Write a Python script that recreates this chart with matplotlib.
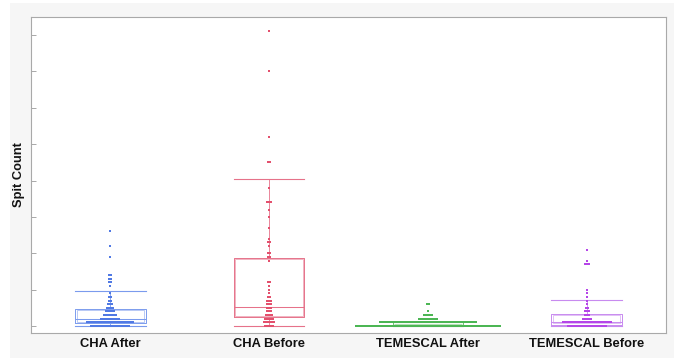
import numpy as np
import matplotlib
matplotlib.use("Agg")
import matplotlib.pyplot as plt
from matplotlib.patches import Rectangle

# ---------------- data ----------------
categories = ["CHA After", "CHA Before", "TEMESCAL After", "TEMESCAL Before"]

# dot plot: values and how many observations at each value
cha_after_vals = [0, 1, 2, 3, 4, 5, 6, 7, 8, 9, 11, 12, 13, 14, 19, 22, 26]
cha_after_cnts = [20, 24, 10, 7, 5, 4, 3, 2, 2, 1, 1, 2, 2, 2, 1, 1, 1]

cha_before_vals = [0, 1, 2, 3, 4, 5, 6, 7, 8, 9, 10, 11, 12, 18, 19, 20, 22, 23,
                   24, 27, 30, 32, 34, 38, 45, 52, 70, 81]
cha_before_cnts = [5, 6, 5, 4, 3, 3, 3, 3, 2, 1, 1, 1, 2, 1, 2, 2, 1, 2,
                   1, 1, 1, 1, 3, 1, 2, 1, 1, 1]

tem_after_vals = [0, 1, 2, 3, 4, 6]
tem_after_cnts = [73, 49, 10, 5, 1, 2]

tem_before_vals = [0, 1, 2, 3, 4, 5, 6, 7, 8, 9, 10, 17, 18, 21]
tem_before_cnts = [20, 25, 5, 3, 3, 2, 1, 1, 1, 1, 1, 3, 1, 1]

# box statistics
box_q1 = [0.7, 2.4, 0.0, 0.4]
box_med = [1.8, 5.2, 0.0, 1.0]
box_q3 = [4.8, 18.8, 1.0, 3.4]
box_lo = [0.0, 0.0, 0.0, 0.0]
box_hi = [9.5, 40.3, 1.0, 7.1]

y_ticks = [0, 10, 20, 30, 40, 50, 60, 70, 80]

point_colors = ["#5079e4", "#e3506d", "#4cb654", "#b545e8"]
box_colors = ["#7b9bed", "#e6728a", "#72c677", "#c88bef"]

# ---------------- figure ----------------
W, H = 678, 358
fig = plt.figure(figsize=(W / 100, H / 100), dpi=100, facecolor="white")
bg = Rectangle((10 / W, 0), (674 - 10) / W, (358 - 3) / H,
               transform=fig.transFigure, facecolor="#f6f6f6",
               edgecolor="none", zorder=-10)
fig.patches.append(bg)
ax = fig.add_axes([31 / W, 25 / H, 635 / W, 316 / H])
ax.set_zorder(1)
ax.set_facecolor("white")

ax.set_xlim(-0.5, 3.5)
ax.set_ylim(-1.92, 84.95)

px_x = 4.0 / 635.0        # data units per pixel, x
px_y = 86.87 / 316.0      # data units per pixel, y
half_w = 0.2225

# box plots
for i in range(4):
    c = box_colors[i]
    st = dict(q1=box_q1[i], med=box_med[i], q3=box_q3[i],
              whislo=box_lo[i], whishi=box_hi[i], fliers=[])
    art = ax.bxp([st], positions=[i], widths=2 * half_w, showfliers=False,
                 patch_artist=False, manage_ticks=False,
                 boxprops=dict(color=c, linewidth=0.7),
                 medianprops=dict(color=c, linewidth=0.75),
                 whiskerprops=dict(color=c, linewidth=0.6),
                 capprops=dict(color=c, linewidth=0.8))
    for cap in art["caps"]:
        cap.set_xdata([i - half_w, i + half_w])
    # inner outline (double-line box look)
    ix = 1.6 * px_x
    iy = 1.6 * px_y
    ax.add_patch(Rectangle((i - half_w + ix, box_q1[i] + iy),
                           2 * (half_w - ix), max(box_q3[i] - box_q1[i] - 2 * iy, 0.05),
                           fill=False, edgecolor=c, linewidth=0.5, alpha=0.75,
                           zorder=2))

# dot plots
groups = [(cha_after_vals, cha_after_cnts), (cha_before_vals, cha_before_cnts),
          (tem_after_vals, tem_after_cnts), (tem_before_vals, tem_before_cnts)]
dx = 2.0 * px_x  # horizontal spacing of stacked dots (2 px)
for i, (vals, cnts) in enumerate(groups):
    xs, ys = [], []
    for v, n in zip(vals, cnts):
        offs = (np.arange(n) - (n - 1) / 2.0) * dx
        xs.extend(i + offs)
        ys.extend([v] * n)
    ax.scatter(xs, ys, s=1.6, marker="s", color=point_colors[i],
               linewidths=0, zorder=3)

# axes styling
for s in ax.spines.values():
    s.set_color("#a9a9a9")
    s.set_linewidth(0.8)
ax.set_yticks(y_ticks)
ax.set_yticklabels([])
ax.tick_params(axis="y", direction="in", length=3.5, width=0.6, color="#9a9a9a")
ax.set_xticks(range(4))
ax.set_xticklabels(categories, fontfamily="Liberation Sans", fontweight="bold",
                   fontsize=9.3, color="#111111")
ax.tick_params(axis="x", length=0, pad=3.5)

fig.text(19 / W, 1 - 175 / H, "Spit Count", rotation=90, ha="center", va="center",
         fontfamily="Liberation Sans", fontweight="bold", fontsize=9.3,
         color="#111111", zorder=5)

fig.savefig("out.png", dpi=100, facecolor="white")
